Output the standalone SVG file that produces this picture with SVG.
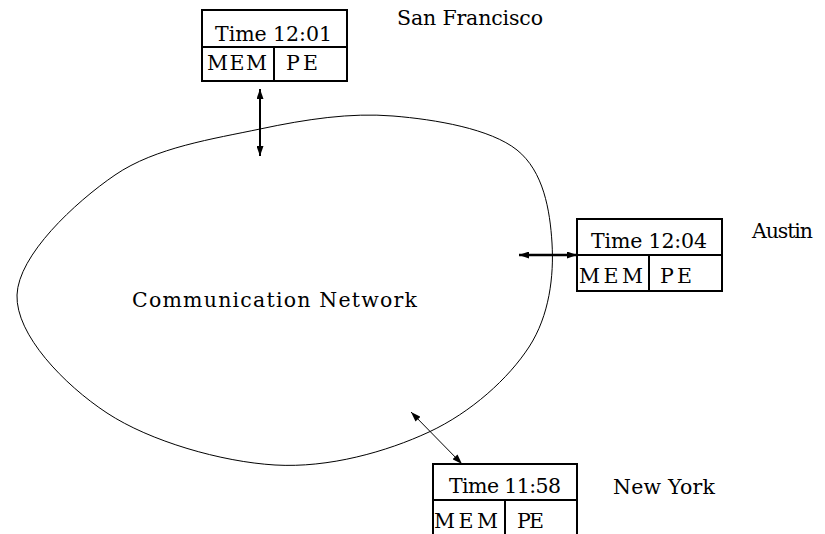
<svg xmlns="http://www.w3.org/2000/svg" width="825" height="534" viewBox="0 0 825 534">
<style>
.t{font-family:"DejaVu Serif",serif;font-size:20.5px;fill:#000}
.box{fill:none;stroke:#000;stroke-width:2}
.conn{stroke:#000;fill:none}
.blob{fill:none;stroke:#000;stroke-width:1}
</style>
<defs>
<marker id="ah" markerUnits="userSpaceOnUse" markerWidth="10" markerHeight="7" refX="10" refY="3.5" orient="auto-start-reverse">
<path d="M0,0 L10,3.5 L0,7 z" fill="#000"/>
</marker>
</defs>
<rect width="825" height="534" fill="#fff"/>
<g id="network">
<path class="blob" d="M260,129 C306.3,119.2 350.2,112.5 393,116 C435.8,119.5 490.5,128.8 517,150 C543.5,171.2 550,210.2 552,243 C554,275.8 549.5,315.5 529,347 C508.5,378.5 471.3,412.3 429,432 C386.7,451.7 328.7,468.2 275,465 C221.3,461.8 150,441.3 107,413 C64,384.7 15.7,334.7 17,295 C18.3,255.3 74.5,202.7 115,175 C155.5,147.3 213.7,138.8 260,129 Z"/>
<text class="t" x="132" y="307" textLength="285" lengthAdjust="spacing">Communication Network</text>
</g>
<g id="sf">
<rect class="box" x="202" y="10" width="145" height="71"/>
<line class="box" x1="202" y1="47" x2="347" y2="47"/>
<line class="box" x1="274" y1="47" x2="274" y2="81"/>
<text class="t" x="215" y="41" textLength="117" lengthAdjust="spacing">Time 12:01</text>
<text class="t" x="207" y="70" textLength="60" lengthAdjust="spacing">MEM</text>
<text class="t" x="286" y="70" textLength="32" lengthAdjust="spacing">PE</text>
<text class="t" x="397" y="25" textLength="146" lengthAdjust="spacing">San Francisco</text>
</g>
<g id="austin">
<rect class="box" x="577" y="219" width="145" height="72"/>
<line class="box" x1="577" y1="255" x2="722" y2="255"/>
<line class="box" x1="649" y1="255" x2="649" y2="291"/>
<text class="t" x="591" y="248" textLength="116" lengthAdjust="spacing">Time 12:04</text>
<text class="t" x="579" y="283" textLength="64" lengthAdjust="spacing">MEM</text>
<text class="t" x="660" y="283" textLength="32" lengthAdjust="spacing">PE</text>
<text class="t" x="752" y="238" textLength="61" lengthAdjust="spacing">Austin</text>
</g>
<g id="newyork">
<rect class="box" x="433" y="464" width="144" height="90"/>
<line class="box" x1="433" y1="500" x2="577" y2="500"/>
<line class="box" x1="505" y1="500" x2="505" y2="540"/>
<text class="t" x="449" y="493" textLength="112" lengthAdjust="spacing">Time 11:58</text>
<text class="t" x="434" y="528" textLength="64" lengthAdjust="spacing">MEM</text>
<text class="t" x="517" y="528" textLength="27" lengthAdjust="spacing">PE</text>
<text class="t" x="613" y="494" textLength="102" lengthAdjust="spacing">New York</text>
</g>
<g id="connectors">
<line class="conn" stroke-width="2" x1="260" y1="89" x2="260" y2="156" marker-start="url(#ah)" marker-end="url(#ah)"/>
<line class="conn" stroke-width="2.5" x1="519" y1="255" x2="577" y2="255" marker-start="url(#ah)" marker-end="url(#ah)"/>
<line class="conn" stroke-width="1" x1="411" y1="412" x2="462" y2="464" marker-start="url(#ah)" marker-end="url(#ah)"/>
</g>
</svg>
